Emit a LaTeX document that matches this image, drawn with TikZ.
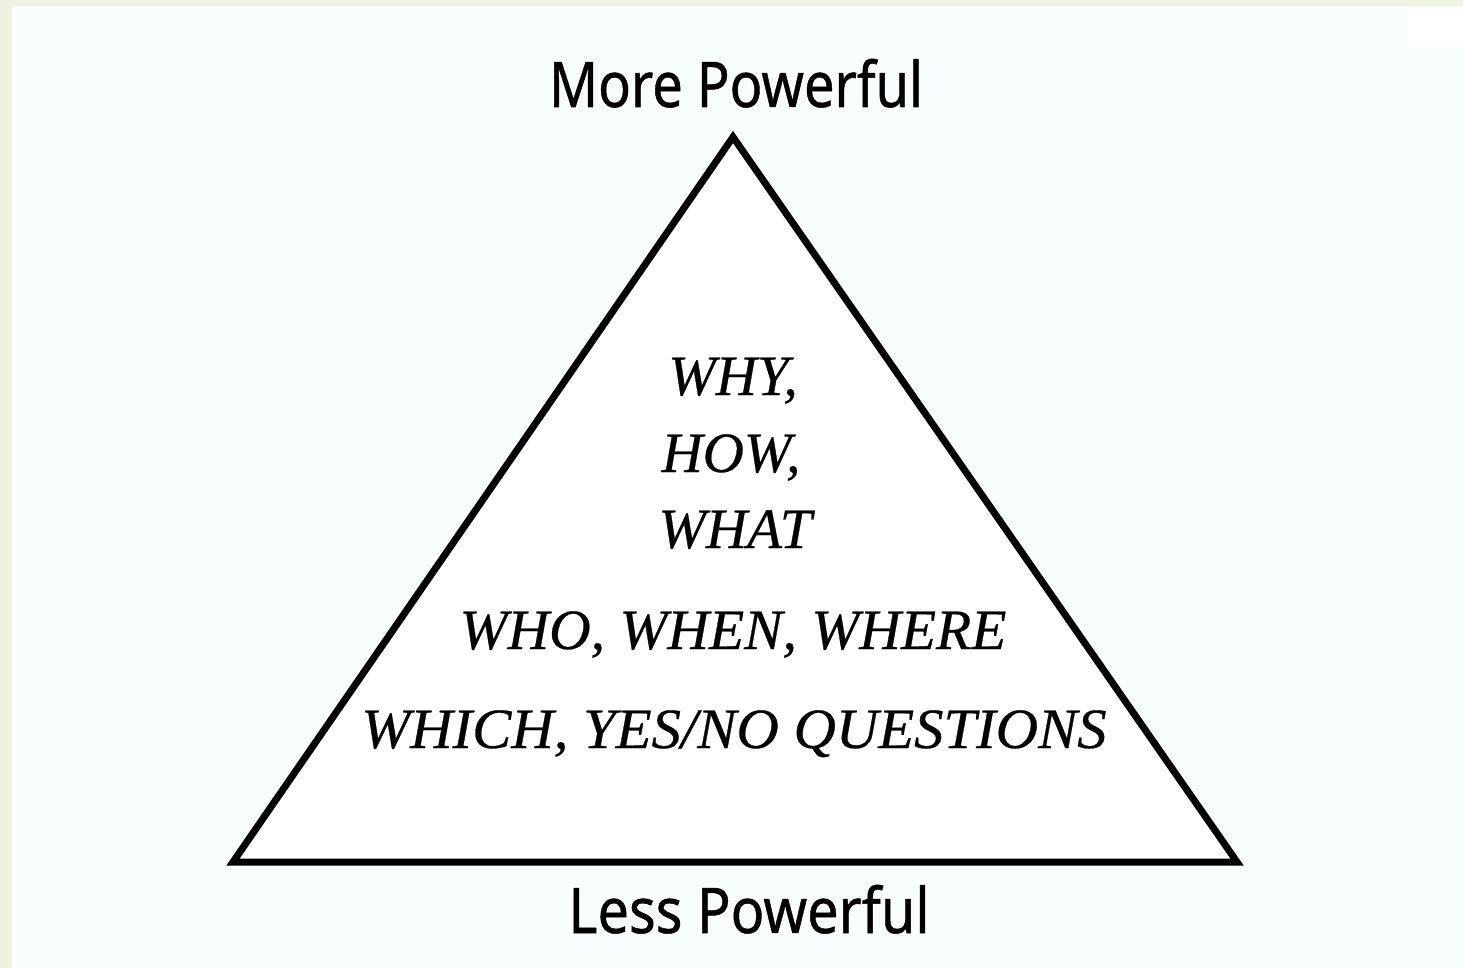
\documentclass[tikz,border=0pt]{standalone}
\usepackage{fontspec}
\setmainfont{Liberation Serif}
\newfontfamily\labelfont[FakeBold=0.8]{Noto Sans}
\newfontfamily\qfont[FakeBold=0.5]{Liberation Serif Italic}
\definecolor{stripcol}{HTML}{EEF2E2}
\definecolor{pagecol}{HTML}{F8FEFE}
\tikzset{
  endlabel/.style={anchor=base, inner sep=0pt, font=\labelfont\fontsize{63}{63}\selectfont},
  qlabel/.style={anchor=base, inner sep=0pt, font=\qfont\fontsize{57}{57}\selectfont},
  pyramid/.style={draw=black, line width=7pt, line join=miter, fill=white}
}
\begin{document}
\begin{tikzpicture}[x=1pt,y=-1pt]
\useasboundingbox (0,0) rectangle (1463,968);
\fill[stripcol] (0,0) rectangle (1463,968);
\fill[pagecol] (12,6) rectangle (1463,968);
\fill[white] (1408,6) rectangle (1463,47);
\coordinate (apex) at (733,137);
\coordinate (bl) at (233,862);
\coordinate (br) at (1237,862);
\draw[pyramid] (apex) -- (bl) -- (br) -- cycle;
\node[endlabel] (more) at (736,107) {\scalebox{0.86}[1]{More Powerful}};
\node[endlabel] (less) at (749,933) {\scalebox{0.885}[1]{Less Powerful}};
\node[qlabel] (why) at (733,395) {WHY,};
\node[qlabel] (how) at (731,472) {HOW,};
\node[qlabel] (what) at (735,548) {WHAT};
\node[qlabel] (who) at (733,649) {\scalebox{1.01}[1]{WHO, WHEN, WHERE}};
\node[qlabel] (which) at (734,748) {\scalebox{1.03}[1]{WHICH, YES/NO QUESTIONS}};
\end{tikzpicture}
\end{document}
